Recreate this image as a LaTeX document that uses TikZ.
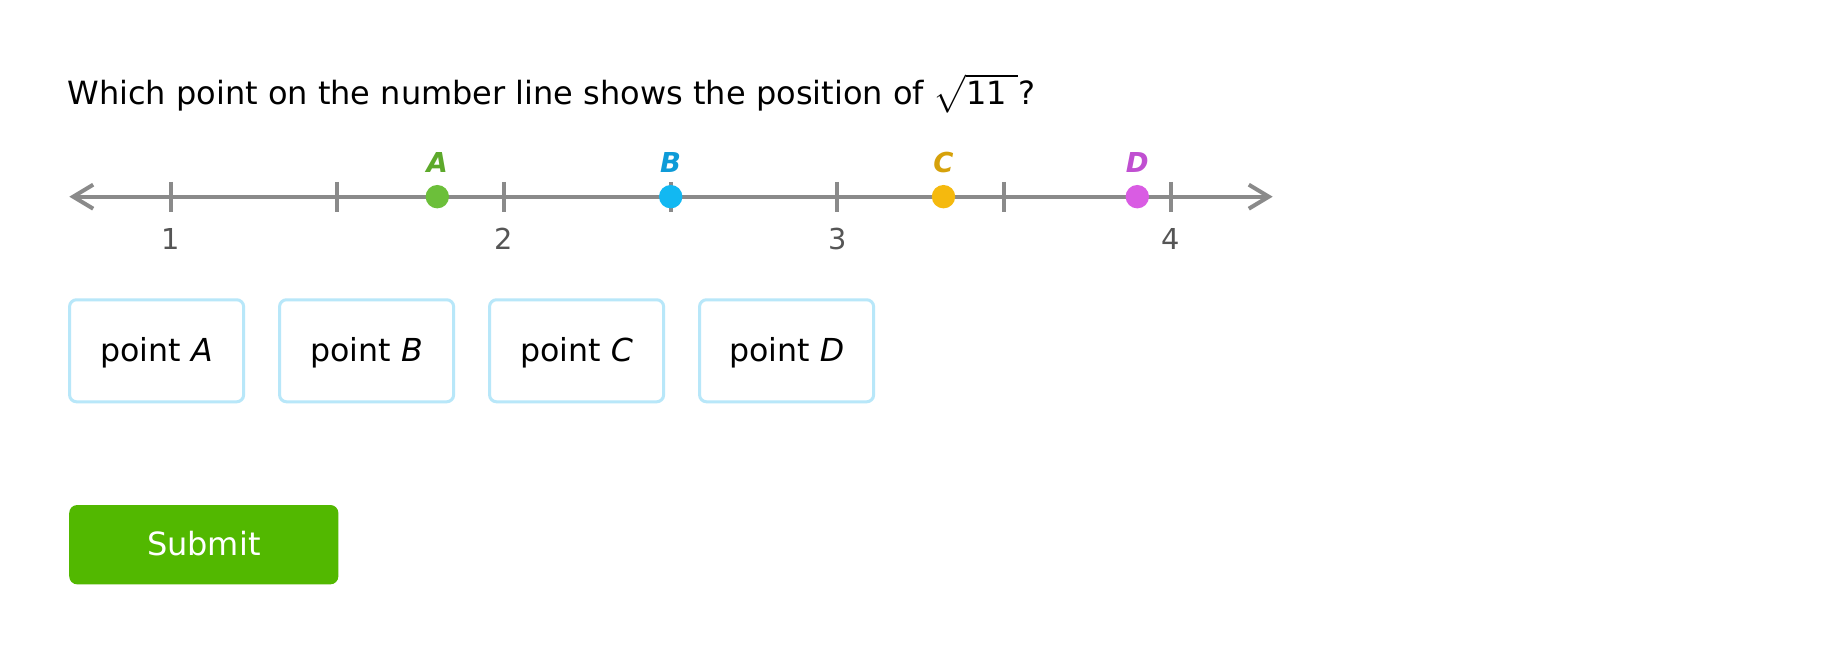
\documentclass[tikz,border=0pt]{standalone}
\usepackage{amsmath}
\usepackage{fontspec}
\setmainfont{DejaVu Sans}
\usetikzlibrary{arrows.meta}
\definecolor{axisgray}{HTML}{8A8A8A}
\definecolor{numgray}{HTML}{555555}
\definecolor{dota}{HTML}{6CBF3A}
\definecolor{laba}{HTML}{5DA92B}
\definecolor{dotb}{HTML}{12B8F2}
\definecolor{labb}{HTML}{0E9BD8}
\definecolor{dotc}{HTML}{F5B90E}
\definecolor{labc}{HTML}{D6A10A}
\definecolor{dotd}{HTML}{D95CE3}
\definecolor{labd}{HTML}{C04FD1}
\definecolor{boxblue}{HTML}{B8E7F9}
\definecolor{submitgreen}{HTML}{52B800}
\tikzstyle{axis} = [axisgray, line width=0.04cm, arrows={Straight Barb[length=0.2cm,width=0.24cm]-Straight Barb[length=0.2cm,width=0.24cm]}]
\tikzstyle{tickline} = [axisgray, line width=0.04cm]
\tikzstyle{num} = [anchor=base, inner sep=0pt, text=numgray, font=\fontsize{8.2}{10}\selectfont]
\tikzstyle{ball} = [circle, inner sep=0pt, minimum size=0.234cm]
\tikzstyle{lbl} = [anchor=base, inner sep=0pt, font=\fontsize{7.8}{9}\selectfont\bfseries\itshape]
\tikzstyle{choice} = [draw=boxblue, line width=0.03cm, rounded corners=0.07cm, minimum width=1.74cm, minimum height=1.02cm, text height=0.22cm, text depth=0cm, font=\fontsize{9}{11}\selectfont]
\tikzstyle{go} = [fill=submitgreen, text=white, rounded corners=0.08cm, minimum width=2.69cm, minimum height=0.793cm, text height=0.226cm, text depth=0cm, font=\fontsize{9.1}{11}\selectfont]

\begin{document}
\begin{tikzpicture}[x=0.01cm, y=-0.01cm]
	  \fill[white] (0,0) rectangle (1829,662);
	  \useasboundingbox (0,0) rectangle (1829,662);

	  \node (q) at (66.7,105) [anchor=base west, inner sep=0pt, font=\fontsize{9.1}{11}\selectfont] {Which point on the number line shows the position of \(\sqrt{\text{11}\,\,\rule[-0.06cm]{0pt}{0.3cm}}\)?};

	  \coordinate (l) at (69.3,196.7);
	  \coordinate (r) at (1272.7,196.7);
	  \draw [axis] (l) -- (r);
	  \foreach \i in {0,...,6}
	    \draw [tickline] ({170.7+166.67*\i},182) -- ({170.7+166.67*\i},212);
	  \foreach \n [count=\k from 0] in {1,2,3,4}
	    \node (n\n) at ({170.7+333.33*\k},249.3) [num] {\n};

	  \node (a) at (437.3,196.7) [ball, fill=dota] {};
	  \node (b) at (670.7,196.7) [ball, fill=dotb] {};
	  \node (c) at (943.5,196.7) [ball, fill=dotc] {};
	  \node (d) at (1137.3,196.7) [ball, fill=dotd] {};
	  \node (la) at (437.3,173) [lbl, text=laba] {A};
	  \node (lb) at (670.7,173) [lbl, text=labb] {B};
	  \node (lc) at (943.5,173) [lbl, text=labc] {C};
	  \node (ld) at (1137.3,173) [lbl, text=labd] {D};

	  \node (pa) at (156.6,350.8) [choice] {point \textit{A}};
	  \node (pb) at (366.6,350.8) [choice] {point \textit{B}};
	  \node (pc) at (576.6,350.8) [choice] {point \textit{C}};
	  \node (pd) at (786.6,350.8) [choice] {point \textit{D}};

	  \node (s) at (203.8,544.7) [go] {Submit};
	\end{tikzpicture}
\end{document}
